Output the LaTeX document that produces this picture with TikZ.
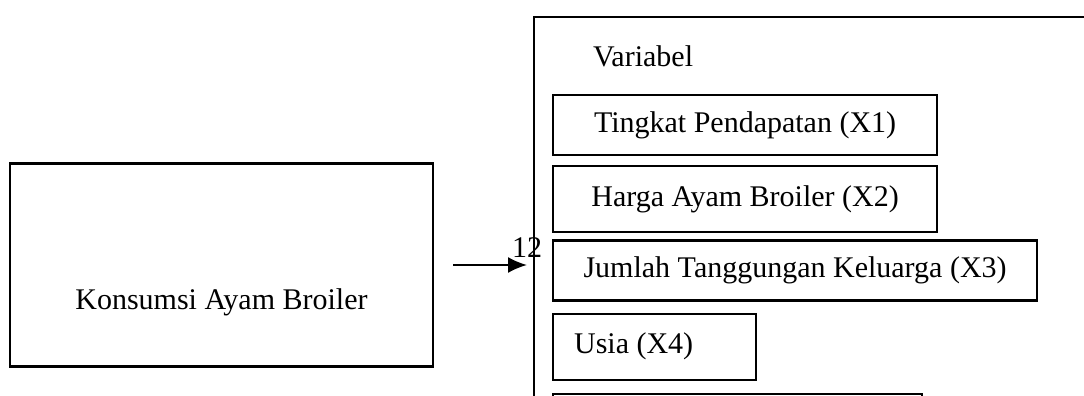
\documentclass[tikz,border=0pt]{standalone}
\usepackage{fontspec}
\setmainfont{Liberation Serif}
\usetikzlibrary{positioning,arrows.meta}

\begin{document}
\begin{tikzpicture}[x=0.5pt,y=-0.5pt,line width=1.1pt,
   box/.style={draw,rectangle,inner sep=0pt,font=\fontsize{15}{18}\selectfont},
   lbl/.style={inner sep=0pt,font=\fontsize{15}{18}\selectfont},
   >={Latex[length=9.5pt,width=8pt]}]
   \useasboundingbox (0,0) rectangle (1084,396);
   \clip (0,0) rectangle (1084,396);
   \node[box,minimum width=211.5pt,minimum height=101.5pt,text height=44pt,text depth=0pt] (k) at (221.5,265) {Konsumsi Ayam Broiler};
   \node[box,minimum width=290pt,minimum height=210pt,anchor=north west] (v) at (533,16) {};
   \node[lbl,anchor=base west] (var) at (592,67) {Variabel};
   \node[box,minimum width=192pt,minimum height=30pt,anchor=north west] (x1) at (552,94) {Tingkat Pendapatan (X1)};
   \node[box,minimum width=192pt,minimum height=33pt,below=4.5pt of x1.south west,anchor=north west] (x2) {Harga Ayam Broiler (X2)};
   \node[box,minimum width=242pt,minimum height=30pt,below=3pt of x2.south west,anchor=north west] (x3) {Jumlah Tanggungan Keluarga (X3)};
   \node[box,minimum width=101.5pt,minimum height=33pt,below=5.5pt of x3.south west,anchor=north west] (x4) {\makebox[80.5pt][l]{Usia (X4)}};
   \node[box,minimum width=184.5pt,minimum height=40pt,below=6pt of x4.south west,anchor=north west] (x5) {};
   \node[lbl,anchor=base] (n) at (527,257) {12};
   \draw[->,line width=1pt,shorten <=9.5pt,shorten >=3pt] (k.east) -- (k.east -| v.west);
\end{tikzpicture}
\end{document}
